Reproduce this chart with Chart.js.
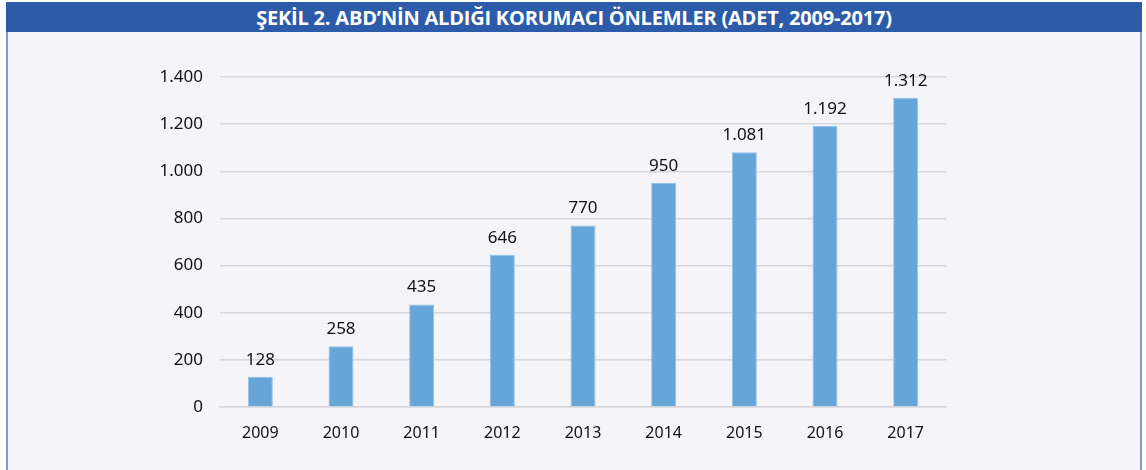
<!DOCTYPE html>
<html>
<head>
<meta charset="utf-8">
<script src="https://cdn.jsdelivr.net/npm/chart.js@4/dist/chart.umd.min.js"></script>
<style>
  body { margin: 0; background: #ffffff; width: 1146px; height: 470px; overflow: hidden; position: relative; font-family: "Noto Sans", sans-serif; }
  #panel { position: absolute; left: 6px; top: 2px; width: 1132px; height: 468px; background: #f4f4f9; border-left: 2px solid #7c9bd4; border-right: 2px solid #7c9bd4; }
  #title { position: absolute; left: 6px; top: 2px; width: 1136px; height: 30px; background: #2c5ca9; color: #ffffff; font-family: "Open Sans", "Noto Sans", sans-serif; font-weight: bold; font-size: 20px; line-height: 31px; text-align: center; letter-spacing: -0.2px; }
  #chart { position: absolute; left: 0; top: 0; }
</style>
</head>
<body>
<div id="panel"></div>
<div id="title">ŞEKİL 2. ABD’NİN ALDIĞI KORUMACI ÖNLEMLER (ADET, 2009-2017)</div>
<canvas id="chart" width="1146" height="470"></canvas>
<script>
const years = ['2009', '2010', '2011', '2012', '2013', '2014', '2015', '2016', '2017'];
const measures = [128, 258, 435, 646, 770, 950, 1081, 1192, 1312];
const yTicks = [0, 200, 400, 600, 800, 1000, 1200, 1400];

// binlik ayırıcı nokta ile
function fmt(v) {
    return String(v).replace(/\B(?=(\d{3})+(?!\d))/g, '.');
}

const valueLabels = {
    id: 'valueLabels',
    afterDatasetsDraw(chart) {
        const ctx = chart.ctx;
        const meta = chart.getDatasetMeta(0);
        ctx.save();
        ctx.font = '17px "Noto Sans"';
        ctx.fillStyle = '#111111';
        ctx.textAlign = 'center';
        ctx.textBaseline = 'middle';
        meta.data.forEach((bar, i) => {
            ctx.fillText(fmt(measures[i]), bar.x, bar.y - 17);
        });
        ctx.restore();
    }
};

const ctx = document.getElementById('chart').getContext('2d');
new Chart(ctx, {
    type: 'bar',
    data: {
        labels: years,
        datasets: [{
            data: measures,
            backgroundColor: '#66a5d8',
            borderColor: '#93c0e8',
            borderWidth: 1,
            barPercentage: 0.31,
            categoryPercentage: 1
        }]
    },
    options: {
        responsive: false,
        animation: false,
        layout: { padding: { top: 77, right: 200, bottom: 0, left: 0 } },
        plugins: { legend: { display: false }, tooltip: { enabled: false } },
        scales: {
            x: {
                grid: { display: false },
                border: { color: '#d6d6dc', width: 1.5 },
                ticks: { color: '#111111', font: { family: 'Noto Sans', size: 16 }, padding: 9 },
                afterFit(scale) { scale.height = 63; }
            },
            y: {
                min: 0,
                max: 1400,
                afterBuildTicks(scale) { scale.ticks = yTicks.map(v => ({ value: v })); },
                grid: { color: '#d6d6dc', lineWidth: 1.5, drawTicks: false },
                border: { display: false },
                ticks: { color: '#111111', font: { family: 'Noto Sans', size: 17 }, padding: 17, callback: v => fmt(v) },
                afterFit(scale) { scale.width = 220; }
            }
        }
    },
    plugins: [valueLabels]
});
</script>
</body>
</html>
